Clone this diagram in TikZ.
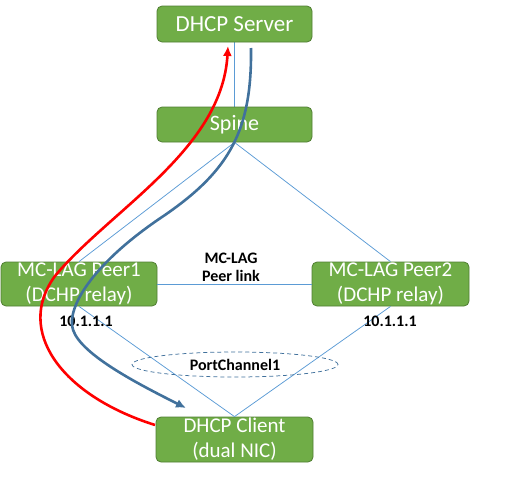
\documentclass[tikz,border=0pt]{standalone}
\usepackage{fontspec}
\setmainfont{Carlito}
\usetikzlibrary{arrows.meta,shapes.geometric}
\definecolor{boxgreen}{HTML}{70AD47}
\definecolor{boxborder}{HTML}{507E32}
\definecolor{thinblue}{HTML}{5B9BD5}
\definecolor{pathblue}{HTML}{41719C}
\definecolor{pathred}{HTML}{FF0000}
\begin{document}
\begin{tikzpicture}[x=1pt,y=-1pt,
  box/.style={draw=boxborder, fill=boxgreen, rounded corners=5pt, text=white,
    font=\fontsize{21}{25}\selectfont, align=center, inner sep=0pt, line width=0.8pt},
  thin/.style={draw=thinblue, line width=0.75pt},
  lbl/.style={font=\fontsize{16}{18}\selectfont\bfseries, align=center, inner sep=0pt},
  flow/.style={line width=2.6pt, -{Latex[length=10pt,width=9pt]}}]
\useasboundingbox (0,0) rectangle (525,480);
% connectors (thin)
\coordinate (srvb) at (234,42);
\coordinate (spt) at (234,107);
\draw[thin] (srvb) -- (spt);
\node[box, minimum width=155pt, minimum height=36pt, font=\fontsize{23}{25}\selectfont] (server) at (234.5,24) {DHCP Server};
\node[box, minimum width=155pt, minimum height=35pt, font=\fontsize{22}{25}\selectfont] (spine) at (234.5,124.5) {Spine};
\node[box, minimum width=156pt, minimum height=44pt] (p1) at (79,284) {MC-LAG Peer1\\(DCHP relay)};
\node[box, minimum width=157pt, minimum height=44pt] (p2) at (390.5,284) {MC-LAG Peer2\\(DCHP relay)};
\node[box, minimum width=157pt, minimum height=45pt] (client) at (234.5,439.5) {DHCP Client\\(dual NIC)};
\draw[thin] (spine.south) -- (p1.north);
\draw[thin] (spine.south) -- (p2.north);
\draw[thin] (p1.south) -- (client.north);
\draw[thin] (p2.south) -- (client.north);
\draw[thin] (p1.east) -- (p2.west);
% labels
\node[lbl] (pl) at (231,267) {MC-LAG\\Peer link};
\node[lbl] (ip1) at (86,321) {10.1.1.1};
\node[lbl] (ip2) at (390,321) {10.1.1.1};
\node[draw=pathblue, dashed, dash pattern=on 4pt off 3pt, line width=0.75pt, ellipse, minimum width=206pt, minimum height=25pt, inner sep=0pt, font=\fontsize{16}{18}\selectfont\bfseries] (pc) at (235,364.5) {PortChannel1};
% flows
\coordinate (rs) at (155,425);
\coordinate (re) at (228,46);
\draw[flow, draw=pathred] (rs) .. controls (60,395) and (15,330) .. (55,276) .. controls (110,210) and (222,150) .. (re);
\coordinate (bs) at (251,48);
\coordinate (be) at (186,408);
\draw[flow, draw=pathblue] (bs) .. controls (252,130) and (230,170) .. (165,215) .. controls (100,258) and (70,300) .. (72,325) .. controls (74,350) and (130,380) .. (be);
\end{tikzpicture}
\end{document}
